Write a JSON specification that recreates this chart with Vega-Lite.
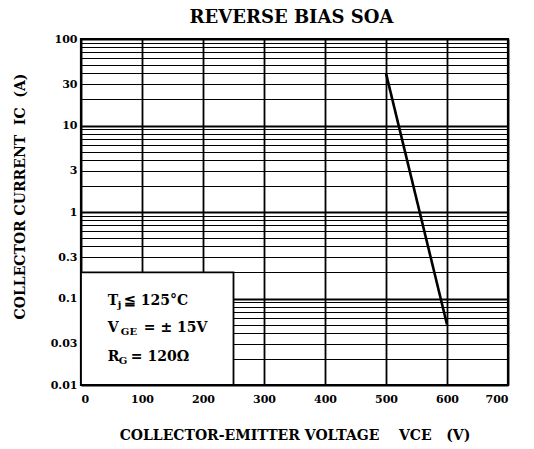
{
  "$schema": "https://vega.github.io/schema/vega-lite/v6.json",
  "autosize": "none",
  "width": 427,
  "height": 346,
  "padding": {"left": 81, "top": 39, "right": 26, "bottom": 64},
  "background": "white",
  "title": {
    "text": "REVERSE BIAS SOA",
    "font": "DejaVu Serif",
    "fontWeight": "bold",
    "fontSize": 18,
    "color": "black",
    "anchor": "middle",
    "offset": 6,
    "dx": -3
  },
  "config": {
    "view": {"stroke": "black", "strokeWidth": 2.2},
    "axis": {
      "labelFont": "DejaVu Serif",
      "labelFontWeight": "bold",
      "labelFontSize": 11,
      "labelColor": "black",
      "titleFont": "DejaVu Serif",
      "titleFontWeight": "bold",
      "titleFontSize": 14,
      "titleColor": "black",
      "ticks": false,
      "domain": false,
      "gridColor": "black",
      "gridOpacity": 1
    },
    "text": {"font": "DejaVu Serif", "fontWeight": "bold", "color": "black", "align": "left", "baseline": "middle"}
  },
  "datasets": {
    "soa": [
      {"vce": 500, "ic": 40},
      {"vce": 600, "ic": 0.05}
    ],
    "box": [
      {"x1": 0, "x2": 250, "y1": 0.01, "y2": 0.2}
    ],
    "notes": [
      {"vce": 44, "ic": 0.093, "main": "T", "sub": "j", "rest": "≦ 125°C"},
      {"vce": 44, "ic": 0.046, "main": "V", "sub": "GE", "rest": "= ± 15V"},
      {"vce": 44, "ic": 0.021, "main": "R", "sub": "G", "rest": "= 120Ω"}
    ]
  },
  "encoding": {},
  "layer": [
    {
      "data": {"name": "box"},
      "mark": {"type": "rect", "fill": "white", "stroke": "black", "strokeWidth": 1.8},
      "encoding": {
        "x": {
          "field": "x1", "type": "quantitative",
          "scale": {"domain": [0, 700], "nice": false},
          "axis": {
            "values": [0, 50, 100, 150, 200, 250, 300, 350, 400, 450, 500, 550, 600, 650, 700],
            "labelExpr": "datum.value % 100 == 0 ? datum.value + '' : ''",
            "gridWidth": 1.8,
            "labelPadding": 8,
            "title": "COLLECTOR-EMITTER VOLTAGE\u00a0\u00a0\u00a0\u00a0VCE\u00a0\u00a0\u00a0(V)",
            "titlePadding": 24
          }
        },
        "x2": {"field": "x2"},
        "y": {
          "field": "y1", "type": "quantitative",
          "scale": {"type": "log", "domain": [0.01, 100], "nice": false},
          "axis": {
            "values": [0.01, 0.02, 0.03, 0.04, 0.05, 0.06, 0.07, 0.08, 0.09, 0.1, 0.2, 0.3, 0.4, 0.5, 0.6, 0.7, 0.8, 0.9, 1, 2, 3, 4, 5, 6, 7, 8, 9, 10, 20, 30, 40, 50, 60, 70, 80, 90, 100],
            "labelExpr": "indexof([0.01, 0.03, 0.1, 0.3, 1, 3, 10, 30, 100], datum.value) >= 0 ? datum.value + '' : ''",
            "gridWidth": {"condition": {"test": "indexof([0.01, 0.1, 1, 10, 100], datum.value) >= 0", "value": 2.2}, "value": 1},
            "labelPadding": 4,
            "title": "COLLECTOR CURRENT\u00a0\u00a0IC\u00a0\u00a0(A)",
            "titlePadding": 23,
            "titleY": 157
          }
        },
        "y2": {"field": "y2"}
      }
    },
    {
      "data": {"name": "soa"},
      "mark": {"type": "line", "color": "black", "strokeWidth": 2.6},
      "encoding": {
        "x": {"field": "vce", "type": "quantitative"},
        "y": {"field": "ic", "type": "quantitative"}
      }
    },
    {
      "data": {"name": "notes"},
      "mark": {"type": "text", "fontSize": 14},
      "encoding": {
        "x": {"field": "vce", "type": "quantitative"},
        "y": {"field": "ic", "type": "quantitative"},
        "text": {"field": "main"}
      }
    },
    {
      "data": {"name": "notes"},
      "transform": [{"filter": "datum.main == 'T'"}],
      "mark": {"type": "text", "fontSize": 10, "dx": 10, "dy": 4},
      "encoding": {
        "x": {"field": "vce", "type": "quantitative"},
        "y": {"field": "ic", "type": "quantitative"},
        "text": {"field": "sub"}
      }
    },
    {
      "data": {"name": "notes"},
      "transform": [{"filter": "datum.main == 'V'"}],
      "mark": {"type": "text", "fontSize": 10, "dx": 13, "dy": 4},
      "encoding": {
        "x": {"field": "vce", "type": "quantitative"},
        "y": {"field": "ic", "type": "quantitative"},
        "text": {"field": "sub"}
      }
    },
    {
      "data": {"name": "notes"},
      "transform": [{"filter": "datum.main == 'R'"}],
      "mark": {"type": "text", "fontSize": 10, "dx": 11, "dy": 4},
      "encoding": {
        "x": {"field": "vce", "type": "quantitative"},
        "y": {"field": "ic", "type": "quantitative"},
        "text": {"field": "sub"}
      }
    },
    {
      "data": {"name": "notes"},
      "transform": [{"filter": "datum.main == 'T'"}],
      "mark": {"type": "text", "fontSize": 14, "dx": 16},
      "encoding": {
        "x": {"field": "vce", "type": "quantitative"},
        "y": {"field": "ic", "type": "quantitative"},
        "text": {"field": "rest"}
      }
    },
    {
      "data": {"name": "notes"},
      "transform": [{"filter": "datum.main == 'V'"}],
      "mark": {"type": "text", "fontSize": 14, "dx": 36},
      "encoding": {
        "x": {"field": "vce", "type": "quantitative"},
        "y": {"field": "ic", "type": "quantitative"},
        "text": {"field": "rest"}
      }
    },
    {
      "data": {"name": "notes"},
      "transform": [{"filter": "datum.main == 'R'"}],
      "mark": {"type": "text", "fontSize": 14, "dx": 23},
      "encoding": {
        "x": {"field": "vce", "type": "quantitative"},
        "y": {"field": "ic", "type": "quantitative"},
        "text": {"field": "rest"}
      }
    }
  ]
}
